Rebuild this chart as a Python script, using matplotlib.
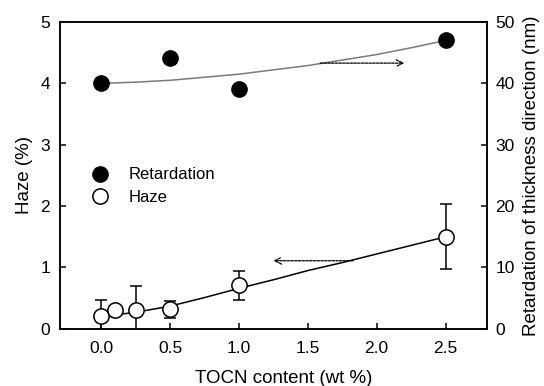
import matplotlib

matplotlib.use("Agg")
import matplotlib.pyplot as plt
from matplotlib.lines import Line2D

plt.rcParams["font.family"] = ["Liberation Sans", "DejaVu Sans"]
plt.rcParams["font.size"] = 12

# Measured points
content = [0.0, 0.1, 0.25, 0.5, 1.0, 2.5]
haze = [0.21, 0.31, 0.30, 0.32, 0.71, 1.50]
haze_err = [0.26, 0.0, 0.40, 0.14, 0.24, 0.53]

ret_content = [0.0, 0.5, 1.0, 2.5]
retardation = [40.0, 44.1, 39.1, 47.1]

# Trend lines
haze_fit_x = [0.0, 0.25, 0.5, 0.75, 1.0, 1.25, 1.5, 1.75, 2.0, 2.25, 2.5]
haze_fit_y = [0.20, 0.27, 0.37, 0.51, 0.66, 0.80, 0.95, 1.08, 1.22, 1.36, 1.50]
ret_fit_x = [0.0, 0.25, 0.5, 0.75, 1.0, 1.25, 1.5, 1.75, 2.0, 2.25, 2.5]
ret_fit_y = [40.0, 40.2, 40.5, 41.0, 41.5, 42.2, 42.9, 43.8, 44.7, 45.8, 47.0]

fig = plt.figure(figsize=(5.44, 3.86), dpi=100)
ax = fig.add_axes([0.110, 0.148, 0.785, 0.795])
ax2 = ax.twinx()

# -- Haze (left axis) --
ax.plot(haze_fit_x, haze_fit_y, color="black", linewidth=1.1, zorder=2)
ax.errorbar(content, haze, yerr=haze_err, fmt="none", ecolor="black",
            elinewidth=1.1, capsize=4.5, capthick=1.1, zorder=3)
ax.plot(content, haze, "o", markersize=11, markerfacecolor="white",
        markeredgecolor="black", markeredgewidth=1.1, zorder=4)

# -- Retardation (right axis) --
ax2.plot(ret_fit_x, ret_fit_y, color="#7a7a7a", linewidth=1.1, zorder=2)
ax2.plot(ret_content, retardation, "o", markersize=11, color="black", zorder=4)

# Arrows pointing to the relevant axis
ax.annotate("", xy=(1.25, 1.11), xytext=(1.83, 1.11),
            arrowprops=dict(arrowstyle="->", linestyle=(0, (2, 1)), lw=0.9,
                            color="black", shrinkA=0, shrinkB=0))
ax2.annotate("", xy=(2.2, 43.3), xytext=(1.59, 43.3),
             arrowprops=dict(arrowstyle="->", linestyle=(0, (2, 1)), lw=0.9,
                             color="black", shrinkA=0, shrinkB=0))

ax.set_xlim(-0.3, 2.8)
ax.set_ylim(0, 5)
ax2.set_ylim(0, 50)
ax.set_xticks([0.0, 0.5, 1.0, 1.5, 2.0, 2.5])
ax.set_xticklabels(["0.0", "0.5", "1.0", "1.5", "2.0", "2.5"])
ax.set_yticks([0, 1, 2, 3, 4, 5])
ax2.set_yticks([0, 10, 20, 30, 40, 50])

ax.set_xlabel("TOCN content (wt %)", fontsize=13.5, labelpad=10)
ax.xaxis.set_label_coords(0.525, -0.135)
ax.set_ylabel("Haze (%)", fontsize=13.5, labelpad=5)
ax2.set_ylabel("Retardation of thickness direction (nm)", fontsize=13.5, labelpad=6)

for a in (ax, ax2):
    a.tick_params(direction="in", length=4, width=1.1, labelsize=12.5, pad=7)
    for s in a.spines.values():
        s.set_linewidth(1.1)
ax.tick_params(axis="y", right=False)
ax.tick_params(axis="x", pad=9)
ax2.tick_params(axis="y", pad=6)

handles = [
    Line2D([], [], marker="o", linestyle="none", markersize=11, color="black"),
    Line2D([], [], marker="o", linestyle="none", markersize=11,
           markerfacecolor="white", markeredgecolor="black", markeredgewidth=1.1),
]
ax.legend(handles, ["Retardation", "Haze"], loc="upper left",
          bbox_to_anchor=(0.02, 0.575), frameon=False, handletextpad=0.7,
          labelspacing=0.45, fontsize=12)

fig.savefig("out.png", dpi=100)
